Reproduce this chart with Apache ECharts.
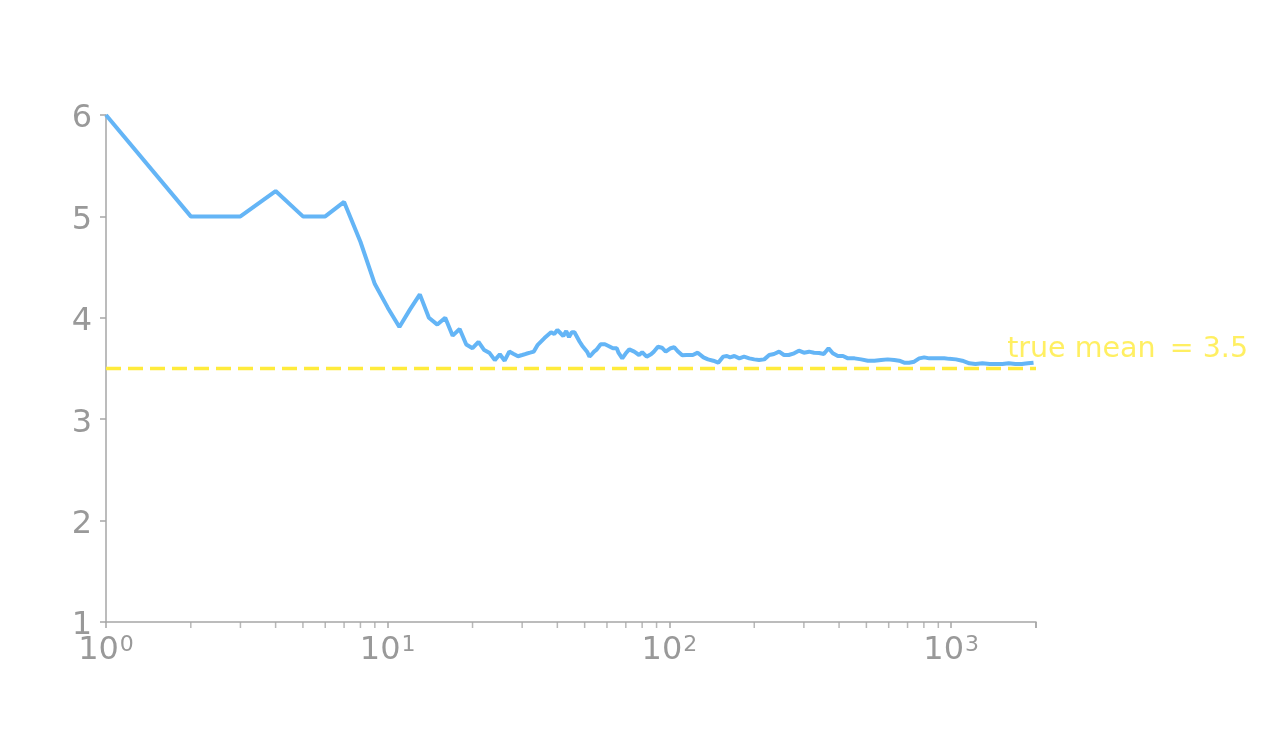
<!DOCTYPE html>
<html>
<head>
<meta charset="utf-8">
<script src="https://cdn.jsdelivr.net/npm/echarts@6/dist/echarts.min.js"></script>
<style>
html,body{margin:0;padding:0;background:#fff;}
#chart{width:1271px;height:735px;}
</style>
</head>
<body>
<div id="chart"></div>
<script>
// Number of rolls (x) and running mean of the die rolls (y)
const rollCounts = [1,2,3,4,5,6,7,8,9,10,11,12,13,14,15,16,17,18,19,20,21,22,23,24,25,26,27,28,29,30,31,32,33,
  34,36,38,39,40,41,42,43,44,45,46,48,49,51,52,53,54,55,57,59,61,63,65,66,68,70,72,75,78,80,83,86,88,91,94,97,
  101,104,107,111,115,121,126,132,137,143,149,155,160,164,170,177,184,192,200,208,217,226,235,245,255,265,277,288,300,313,
  326,340,353,367,380,396,413,430,454,479,506,534,564,595,628,654,681,709,739,770,802,836,871,907,945,985,1040,1095,1160,
  1220,1290,1370,1440,1520,1600,1690,1780,1870,1960];
const runningMeans = [6,5,5,5.25,5,5,5.143,4.75,4.333,4.1,3.909,4.083,4.231,4.0,3.933,4.0,3.824,3.889,3.737,3.70,3.762,3.682,3.652,3.583,3.64,3.577,3.667,3.643,3.621,3.633,3.645,3.656,3.667,
  3.73,3.80,3.857,3.84,3.88,3.85,3.82,3.87,3.81,3.857,3.857,3.764,3.725,3.666,3.617,3.64,3.666,3.683,3.739,3.739,3.72,3.70,3.70,3.653,3.60,3.65,3.689,3.666,3.633,3.66,3.617,3.64,3.666,3.715,3.705,3.666,
  3.70,3.71,3.67,3.63,3.633,3.633,3.656,3.61,3.59,3.577,3.557,3.617,3.623,3.61,3.623,3.60,3.617,3.60,3.59,3.584,3.59,3.633,3.643,3.666,3.633,3.633,3.65,3.676,3.656,3.666,
  3.655,3.653,3.643,3.70,3.65,3.623,3.623,3.60,3.60,3.59,3.577,3.577,3.584,3.59,3.584,3.577,3.557,3.557,3.567,3.60,3.61,3.60,3.60,3.60,3.60,3.595,3.59,3.577,3.551,
  3.544,3.551,3.544,3.544,3.544,3.551,3.544,3.544,3.551,3.557];
const trueMean = 3.5;
const meanLineX = [1, 2000];
const meanLabelText = 'true mean\u2002= 3.5';
const meanLabelAt = [1580, 3.545];
const xRange = [1, 2000];
const yRange = [1, 6];
const yTicks = [1, 2, 3, 4, 5, 6];
const minorTickValues = [2,3,4,5,6,7,8,9,20,30,40,50,60,70,80,90,200,300,400,500,600,700,800,900,2000];

const lineData = rollCounts.map((n, i) => [n, runningMeans[i]]);
const meanData = meanLineX.map(x => [x, trueMean]);
const minorData = minorTickValues.map(x => [x, yRange[0]]);

const FONT = 'DejaVu Sans';
const GRAY = '#999999';
const AXIS = '#a6a6a6';

const chart = echarts.init(document.getElementById('chart'), null, {renderer: 'canvas'});
chart.setOption({
  animation: false,
  backgroundColor: '#ffffff',
  grid: {left: 106, right: 235, top: 115, bottom: 113, containLabel: false, outerBoundsMode: 'none'},
  xAxis: {
    type: 'log',
    logBase: 10,
    min: xRange[0],
    max: xRange[1],
    splitLine: {show: false},
    axisLine: {show: true, lineStyle: {color: AXIS, width: 1.5}},
    axisTick: {show: true, length: 6, lineStyle: {color: AXIS, width: 1.5}},
    minorTick: {show: false},
    axisLabel: {
      margin: 12,
      color: GRAY,
      fontFamily: FONT,
      fontSize: 32,
      formatter: function (v) {
        const e = Math.log10(v);
        if (Math.abs(e - Math.round(e)) > 1e-9) return '';
        return '10{sup|' + Math.round(e) + '}';
      },
      rich: {
        sup: {fontSize: 22, color: GRAY, fontFamily: FONT, verticalAlign: 'top', padding: [0, 0, 12, 1]}
      }
    }
  },
  yAxis: {
    type: 'value',
    min: yRange[0],
    max: yRange[1],
    interval: 1,
    splitLine: {show: false},
    axisLine: {show: true, lineStyle: {color: AXIS, width: 1.5}},
    axisTick: {show: true, length: 6, lineStyle: {color: AXIS, width: 1.5}},
    axisLabel: {margin: 14, color: GRAY, fontFamily: FONT, fontSize: 32,
      formatter: v => yTicks.includes(v) ? '{v|' + v + '}' : '',
      rich: {v: {fontSize: 32, color: GRAY, fontFamily: FONT, padding: [8, 0, 0, 0]}}
    }
  },
  series: [
    {
      type: 'line',
      data: meanData,
      showSymbol: false,
      symbol: 'none',
      lineStyle: {color: '#ffeb3b', width: 3.5, type: [15, 7]},
      z: 2
    },
    {
      type: 'line',
      data: lineData,
      showSymbol: false,
      symbol: 'none',
      lineStyle: {color: '#64b5f6', width: 4},
      z: 3
    },
    {
      type: 'scatter',
      data: [meanLabelAt],
      symbolSize: 0,
      silent: true,
      clip: false,
      label: {
        show: true,
        position: [0, 0],
        align: 'left',
        verticalAlign: 'bottom',
        formatter: meanLabelText,
        color: '#ffeb3b',
        fontFamily: FONT,
        fontSize: 28.5
      }
    },
    {
      type: 'scatter',
      data: minorData,
      symbol: 'rect',
      symbolSize: [1.5, 6],
      symbolOffset: [0, 3],
      clip: false,
      silent: true,
      itemStyle: {color: AXIS},
      z: 1
    }
  ]
});
</script>
</body>
</html>
